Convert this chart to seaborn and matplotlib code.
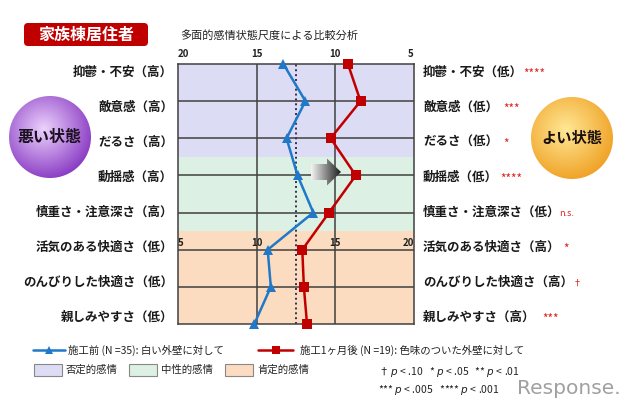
import matplotlib.pyplot as plt
import matplotlib.patches as mpatches
from matplotlib.colors import LinearSegmentedColormap
import numpy as np
import pandas as pd
import seaborn as sns

# rows of the chart, top to bottom
left_labels = ['抑鬱・不安（高）', '敵意感（高）', 'だるさ（高）', '動揺感（高）',
               '慎重さ・注意深さ（高）', '活気のある快適さ（低）',
               'のんびりした快適さ（低）', '親しみやすさ（低）']
right_labels = ['抑鬱・不安（低）', '敵意感（低）', 'だるさ（低）', '動揺感（低）',
                '慎重さ・注意深さ（低）', '活気のある快適さ（高）',
                'のんびりした快適さ（高）', '親しみやすさ（高）']
sig_marks = ['****', '***', '*', '****', 'n.s.', '*', '†', '***']
sig_gaps = [0, 5, 5, 2, -1, 3, 0, 7]

# scores: first 5 rows use the upper scale (20 -> 5), the last 3 the lower scale (5 -> 20)
before_scores = [13.3, 11.9, 13.1, 12.4, 11.4, 10.7, 10.9, 9.85]
after_scores = [9.2, 8.4, 10.3, 8.7, 10.4, 12.9, 13.0, 13.2]
n_negative = 5
mid_score = 12.5

upper_ticks = [20, 15, 10, 5]
lower_ticks = [5, 10, 15, 20]

legend_before = '施工前 (N =35): 白い外壁に対して'
legend_after = '施工1ヶ月後 (N =19): 色味のついた外壁に対して'
band_names = ['否定的感情', '中性的感情', '肯定的感情']

BLUE = '#1f78c8'
RED = '#c00000'
GRID = '#404040'
band_colors = ['#dcdcf4', '#dcf0e4', '#fcdcc0']

sns.set_style('white')
plt.rcParams['font.family'] = ['Noto Sans CJK JP', 'DejaVu Sans']


def to_pos(scores):
    # lower scale is mirrored onto the upper one
    return [v if i < n_negative else 25 - v for i, v in enumerate(scores)]


rows = list(range(len(left_labels)))
df = pd.DataFrame({
    'row': rows + rows,
    'pos': to_pos(before_scores) + to_pos(after_scores),
    'group': ['before'] * len(rows) + ['after'] * len(rows),
})

fig = plt.figure(figsize=(6.4, 4.09), dpi=100)
ax = fig.add_axes([178 / 640, (409 - 324) / 409, 236 / 640, 260 / 409])
ax.set_zorder(1)

# background bands
ax.axhspan(0, 2.5, color=band_colors[0], zorder=0, lw=0)
ax.axhspan(2.5, 4.5, color=band_colors[1], zorder=0, lw=0)
ax.axhspan(4.5, 7, color=band_colors[2], zorder=0, lw=0)
for x in [15, 10]:
    ax.axvline(x, color=GRID, lw=1.1, zorder=1)
for r in rows[1:-1]:
    ax.axhline(r, color=GRID, lw=1.1, zorder=1)
ax.axvline(mid_score, color='#303050', ls=(0, (1, 1.5)), lw=1.4, zorder=2)

sns.lineplot(data=df, x='pos', y='row', hue='group', style='group',
             palette={'before': BLUE, 'after': RED},
             markers={'before': '^', 'after': 's'}, dashes=False,
             sort=False, estimator=None, lw=1.8, markersize=7,
             markeredgewidth=0, legend=False, ax=ax, clip_on=False, zorder=5)

ax.set_xlim(20, 5)
ax.set_ylim(7, 0)
ax.set_xticks([])
ax.set_yticks([])
ax.set_xlabel('')
ax.set_ylabel('')
for s in ax.spines.values():
    s.set_color(GRID)
    s.set_linewidth(1.1)

# scale labels (upper above the axes, lower inside it)
for t in upper_ticks:
    ha = 'left' if t == 20 else ('right' if t == 5 else 'center')
    ax.text(t, -0.27, str(t), ha=ha, va='center', fontsize=7, fontweight='bold',
            color='#222222', clip_on=False)
for t in lower_ticks:
    p = 25 - t
    ha = 'left' if t == 5 else ('right' if t == 20 else 'center')
    ax.text(p, 4.83, str(t), ha=ha, va='center', fontsize=7, fontweight='bold',
            color='#222222', zorder=3)

# overlay in pixel coordinates for labels and decorations
ov = fig.add_axes([0, 0, 1, 1])
ov.set_zorder(3)
ov.axis('off')


def grad_circle(cx, cy, r, c_in, c_out):
    n = 200
    yy, xx = np.mgrid[-1:1:n * 1j, -1:1:n * 1j]
    d = np.sqrt((xx + 0.15) ** 2 + (yy + 0.2) ** 2) / 1.25
    cmap = LinearSegmentedColormap.from_list('c', [c_in, c_out])
    circ = mpatches.Circle((cx, cy), r, fc='none', ec='none')
    ov.add_patch(circ)
    im = ov.imshow(np.clip(d, 0, 1), cmap=cmap, vmin=0, vmax=1,
                   extent=(cx - r, cx + r, cy + r, cy - r), aspect='auto', zorder=1)
    im.set_clip_path(circ)


grad_circle(50, 137, 41, '#ecd2fc', '#8a3cc4')
grad_circle(572, 138, 41, '#ffe896', '#f0a226')
ov.text(50, 137, '悪い状態', ha='center', va='center', fontsize=11.5,
        fontweight='bold', color='#1a1020', zorder=3)
ov.text(572, 138, 'よい状態', ha='center', va='center', fontsize=11,
        fontweight='bold', color='#1a1010', zorder=3)

# arrow with grey gradient
arrow = mpatches.FancyArrow(311, 172, 30, 0, width=16, head_width=27,
                            head_length=14, length_includes_head=True,
                            fc='none', ec='none')
ov.add_patch(arrow)
grad = np.linspace(0, 1, 100).reshape(1, -1)
im = ov.imshow(grad, cmap=LinearSegmentedColormap.from_list('a', ['#f4f4f4', '#1e1e1e']),
               extent=(311, 341, 186, 158), aspect='auto', zorder=4)
im.set_clip_path(arrow)

ov.set_xlim(0, 640)
ov.set_ylim(409, 0)

# row labels
label_y = [72 + i * 35.1 for i in rows]
fig.canvas.draw()
renderer = fig.canvas.get_renderer()
inv = ov.transData.inverted()
for i, y in enumerate(label_y):
    ov.text(173, y, left_labels[i], ha='right', va='center', fontsize=9,
            fontweight='bold', color='#1a1a1a')
    t = ov.text(423, y, right_labels[i], ha='left', va='center', fontsize=9,
                fontweight='bold', color='#1a1a1a')
    ext = t.get_window_extent(renderer)
    x_end = inv.transform((ext.x1, ext.y0))[0]
    if sig_marks[i] in ('n.s.', '†'):
        ov.text(x_end + sig_gaps[i], y + 1, sig_marks[i], ha='left', va='center',
                fontsize=6.5, color='#e02020')
    else:
        ov.text(x_end + sig_gaps[i], y + 2, sig_marks[i], ha='left', va='center',
                fontsize=8.5, color='#e02020')

# title box and subtitle
ov.add_patch(mpatches.FancyBboxPatch((24, 23), 124, 23,
                                     boxstyle='round,pad=0,rounding_size=4',
                                     fc='#c00000', ec='none'))
ov.text(86, 34.5, '家族棟居住者', ha='center', va='center', fontsize=11.5,
        fontweight='bold', color='white')
ov.text(180, 35, '多面的感情状態尺度による比較分析', ha='left', va='center',
        fontsize=8, color='#222222')

# legend
ov.plot([33, 65], [350, 350], color=BLUE, lw=1.8)
ov.plot([49], [350], marker='^', color=BLUE, ms=5.5, mew=0)
ov.text(68, 350, legend_before, ha='left', va='center', fontsize=7.5, color='#222222')
ov.plot([258, 293], [350, 350], color=RED, lw=1.8)
ov.plot([275.5], [350], marker='s', color=RED, ms=6, mew=0)
ov.text(300, 350, legend_after, ha='left', va='center', fontsize=7.5, color='#222222')
for bx, name, c in zip([34, 129, 225], band_names, band_colors):
    ov.add_patch(mpatches.Rectangle((bx, 364), 28, 12, fc=c, ec='#888888', lw=0.8))
    ov.text(bx + 32, 370, name, ha='left', va='center', fontsize=7.5, color='#222222')

ov.text(378, 372, r'† $p$ < .10   * $p$ < .05   ** $p$ < .01', ha='left', va='center',
        fontsize=7.5, color='#222222')
ov.text(378, 390, r'*** $p$ < .005   **** $p$ < .001', ha='left', va='center',
        fontsize=7.5, color='#222222')
ov.text(517, 389, 'Response.', ha='left', va='center', fontsize=14.5,
        color='#a0a0a0', family='DejaVu Sans')

ov.set_xlim(0, 640)
ov.set_ylim(409, 0)

fig.savefig('out.png', dpi=100)
